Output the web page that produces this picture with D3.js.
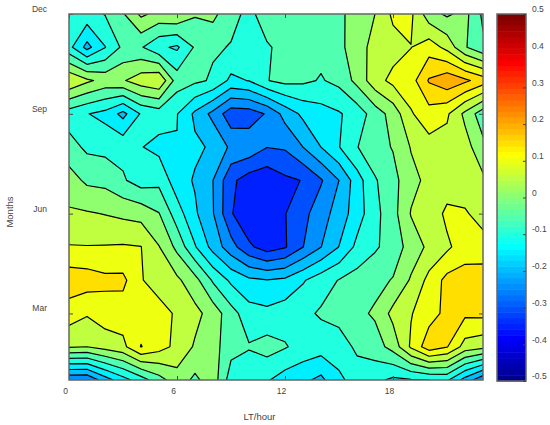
<!DOCTYPE html>
<html>
<head>
	<meta charset="utf-8">
	<title>LT/month contour</title>
	<script src="https://d3js.org/d3.v7.min.js"></script>
	<style>
		body { margin: 0; background: #fff; }
		text { font-family: "Liberation Sans", Arial, sans-serif; fill: #444; }
		.domain { stroke: none; }
		.tick line { stroke: #444; }
	</style>
</head>
<body>
	<div id="chart"></div>
	<script type="text/javascript">

//<------------------------------------DATA------------------------------------------------>
		var hourTicks = [0, 6, 12, 18];
		var monthTicks = [3, 6, 9, 12];
		var monthNames = {3: "Mar", 6: "Jun", 9: "Sep", 12: "Dec"};
		var barTicks = [-0.5, -0.4, -0.3, -0.2, -0.1, 0, 0.1, 0.2, 0.3, 0.4, 0.5];
		var barLabels = ["-0.5", "-0.4", "-0.3", "-0.2", "-0.1", "0", "0.1", "0.2", "0.3", "0.4", "0.5"];
		var levels = [-0.35, -0.3, -0.25, -0.2, -0.15, -0.1, -0.05, 0, 0.05, 0.1, 0.15, 0.2];

		// one row per month, hours 0..23
		var dec = [-0.07,-0.07,-0.048,-0.005,0.06,0.035,0.045,0.005,0.015,-0.04,-0.058,-0.035,-0.04,-0.04,-0.035,-0.01,0.02,0.05,0.11,0.11,0.02,-0.008,0.016,-0.06];
		var nov = [-0.085,-0.166,-0.102,-0.039,-0.045,-0.09,-0.108,-0.044,-0.045,-0.052,-0.07,-0.053,-0.042,-0.04,-0.035,-0.012,0.025,0.07,0.08,0.099,0.127,0.085,0.005,-0.04];
		var oct = [0.095,0.06,0.033,0.045,0.078,0.095,-0.025,-0.04,-0.056,-0.112,-0.098,-0.052,-0.035,-0.04,-0.054,-0.036,0.015,0.08,0.114,0.129,0.205,0.235,0.21,0.177];
		var sep = [-0.075,-0.098,-0.115,-0.165,-0.095,-0.077,-0.098,-0.16,-0.215,-0.28,-0.277,-0.245,-0.182,-0.139,-0.12,-0.105,-0.078,-0.026,0.02,0.095,0.13,0.108,0.038,-0.03];
		var aug = [-0.03,-0.06,-0.065,-0.065,-0.098,-0.114,-0.102,-0.141,-0.157,-0.21,-0.215,-0.249,-0.244,-0.2,-0.15,-0.102,-0.052,-0.019,0.003,0.053,0.081,0.08,0.071,0.014];
		var jul = [0.022,-0.01,-0.015,-0.044,-0.074,-0.064,-0.128,-0.155,-0.2,-0.288,-0.325,-0.336,-0.31,-0.298,-0.255,-0.2,-0.123,-0.055,-0.017,0.035,0.063,0.07,0.075,0.06];
		var jun = [0.057,0.055,0.048,0.039,0.032,0.002,-0.076,-0.142,-0.197,-0.295,-0.345,-0.345,-0.302,-0.265,-0.222,-0.178,-0.124,-0.065,-0.018,0.053,0.065,0.112,0.105,0.082];
		var may = [0.103,0.102,0.103,0.105,0.101,0.052,-0.013,-0.096,-0.168,-0.23,-0.29,-0.326,-0.305,-0.251,-0.201,-0.149,-0.0875,-0.057,-0.028,0.021,0.061,0.09,0.128,0.119];
		var apr = [0.18,0.175,0.162,0.162,0.105,0.067,0.06,0.017,-0.057,-0.11,-0.14,-0.148,-0.14,-0.105,-0.072,-0.048,-0.03,-0.015,0.003,0.056,0.115,0.165,0.17,0.18];
		var mar = [0.125,0.105,0.126,0.125,0.125,0.128,0.09,0.065,0.028,-0.03,-0.079,-0.087,-0.073,-0.062,-0.044,-0.022,-0.012,0.007,0.065,0.097,0.13,0.163,0.16,0.163];
		var feb = [0.056,0.05,0.07,0.087,0.152,0.12,0.087,0.044,0.02,-0.032,-0.046,-0.03,-0.046,-0.068,-0.077,-0.088,-0.035,-0.023,0.019,0.108,0.18,0.153,0.08,0.065];
		var jan = [-0.245,-0.245,-0.175,-0.12,-0.075,-0.02,0.028,-0.011,0.028,-0.076,-0.086,-0.095,-0.123,-0.139,-0.163,-0.105,-0.09,-0.088,-0.11,-0.104,-0.1,-0.092,-0.17,-0.24];
		var rows = [dec, nov, oct, sep, aug, jul, jun, may, apr, mar, feb, jan];

//<------------------------------------SCALES---------------------------------------------->
		var width = 550, height = 425;
		var svg = d3.select("#chart").append("svg")
			.attr("width", width)
			.attr("height", height);

		var xScale = d3.scaleLinear().domain([0, 23]).range([69, 483]);
		var yScale = d3.scaleLinear().domain([12, 1]).range([14, 380]);
		var barScale = d3.scaleLinear().domain([-0.5, 0.5]).range([381, 14]);

		// matlab jet with 64 steps, i is 1..64
		function jet(i) {
			var t = i / 64;
			var r = Math.min(4 * t - 1.5, -4 * t + 4.5);
			var g = Math.min(4 * t - 0.5, -4 * t + 3.5);
			var b = Math.min(4 * t + 0.5, -4 * t + 2.5);
			function c(v) { return Math.round(255 * Math.max(0, Math.min(1, v))); }
			return d3.rgb(c(r), c(g), c(b)).formatHex();
		}
		function levelColor(v) {
			return jet(Math.min(64, Math.floor((v + 0.5) * 64) + 1));
		}

//<------------------------------------CONTOURS-------------------------------------------->
		svg.append("clipPath").attr("id", "plot_clip")
			.append("rect")
			.attr("x", xScale(0))
			.attr("y", yScale(12))
			.attr("width", xScale(23) - xScale(0))
			.attr("height", yScale(1) - yScale(12));

		var contours = d3.contours()
			.size([rows[0].length, rows.length])
			.thresholds(levels)(d3.merge(rows));

		// d3 puts grid node i at i + 0.5
		var toPlot = d3.geoTransform({
			point: function(a, b) {
				this.stream.point(xScale(a - 0.5), yScale(12 - (b - 0.5)));
			}
		});
		var path = d3.geoPath(toPlot);

		svg.append("g").attr("clip-path", "url(#plot_clip)")
			.selectAll("path")
			.data(contours)
			.enter().append("path")
			.attr("d", path)
			.style("fill", function(d) { return levelColor(d.value); })
			.style("stroke", "#000")
			.style("stroke-width", 1.2)
			.style("stroke-linejoin", "round");

//<------------------------------------AXES------------------------------------------------>
		var tickLen = 4;
		var xAxis = svg.append("g")
			.attr("transform", "translate(0," + yScale(1) + ")")
			.call(d3.axisBottom(xScale).tickValues(hourTicks).tickSize(-tickLen).tickFormat(d3.format("d")));
		xAxis.selectAll("text").attr("dx", -4).attr("y", 8).attr("dy", "0.71em").style("font-size", "8.5px");

		svg.append("g")
			.attr("transform", "translate(0," + yScale(12) + ")")
			.call(d3.axisTop(xScale).tickValues(hourTicks).tickSize(-tickLen).tickFormat(""));

		var yAxis = svg.append("g")
			.attr("transform", "translate(" + xScale(0) + ",0)")
			.call(d3.axisLeft(yScale).tickValues(monthTicks).tickSize(-tickLen).tickFormat(function(d) { return monthNames[d]; }));
		yAxis.selectAll("text").attr("x", -22).attr("dy", "-0.3em").style("font-size", "8.5px");

		svg.append("g")
			.attr("transform", "translate(" + xScale(23) + ",0)")
			.call(d3.axisRight(yScale).tickValues(monthTicks).tickSize(-tickLen).tickFormat(""));

		svg.append("rect")
			.attr("x", xScale(0))
			.attr("y", yScale(12))
			.attr("width", xScale(23) - xScale(0))
			.attr("height", yScale(1) - yScale(12))
			.style("fill", "none")
			.style("stroke", "#666")
			.style("stroke-width", 1.5);

		svg.append("text")
			.text("LT/hour")
			.attr("x", 259.5)
			.attr("y", 420)
			.style("text-anchor", "middle")
			.style("font-size", "9.5px");

		svg.append("text")
			.text("Months")
			.attr("transform", "translate(13,212) rotate(-90)")
			.style("text-anchor", "middle")
			.style("font-size", "9.5px");

//<------------------------------------COLORBAR-------------------------------------------->
		var barX = 497, barW = 29;
		var steps = d3.range(1, 65);
		svg.append("g").selectAll("rect")
			.data(steps)
			.enter().append("rect")
			.attr("x", barX)
			.attr("y", function(d) { return barScale(-0.5 + d / 64); })
			.attr("width", barW)
			.attr("height", function(d) { return barScale(-0.5 + (d - 1) / 64) - barScale(-0.5 + d / 64) + 0.5; })
			.style("fill", function(d) { return jet(d); });

		svg.append("rect")
			.attr("x", barX)
			.attr("y", barScale(0.5))
			.attr("width", barW)
			.attr("height", barScale(-0.5) - barScale(0.5))
			.style("fill", "none")
			.style("stroke", "#666")
			.style("stroke-width", 1.5);

		var barAxis = svg.append("g")
			.attr("transform", "translate(" + (barX + barW) + ",0)")
			.call(d3.axisRight(barScale).tickValues(barTicks).tickSize(-3).tickFormat(function(d, i) { return barLabels[i]; }));
		barAxis.selectAll("text").attr("x", 6).attr("dy", "-0.27em").style("font-size", "8.5px");

	</script>
</body>
</html>
